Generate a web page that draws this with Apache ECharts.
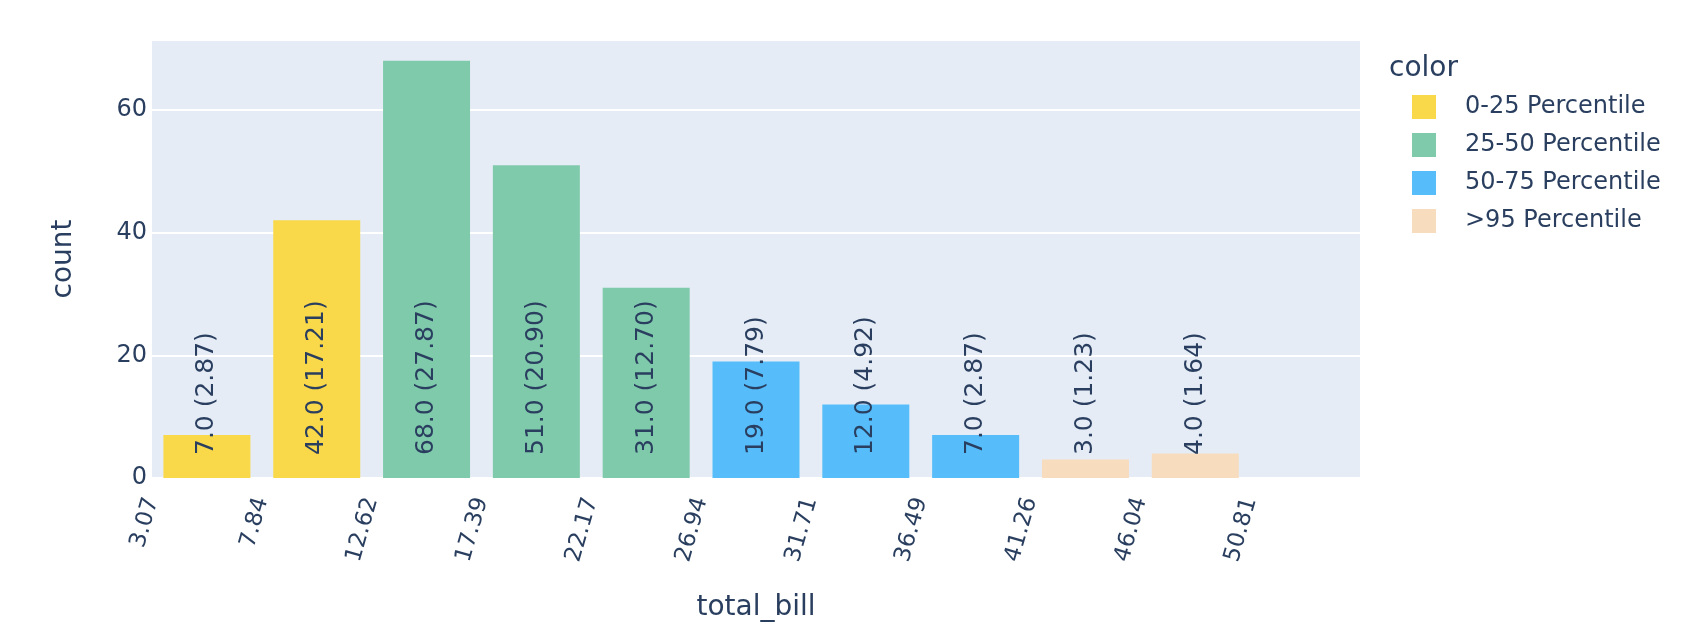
<!DOCTYPE html>
<html>
<head>
<meta charset="utf-8">
<script src="https://cdn.jsdelivr.net/npm/echarts@6/dist/echarts.min.js"></script>
<style>
html,body{margin:0;padding:0;background:#fff;}
#c{width:1696px;height:624px;}
</style>
</head>
<body>
<div id="c"></div>
<script>
// Bin edges shown as x tick labels
const binEdges = ['3.07','7.84','12.62','17.39','22.17','26.94','31.71','36.49','41.26','46.04','50.81'];
// Counts per bin
const counts = [7, 42, 68, 51, 31, 19, 12, 7, 3, 4];
// Percent of total per bin
const percents = [2.87, 17.21, 27.87, 20.90, 12.70, 7.79, 4.92, 2.87, 1.23, 1.64];
// Group of each bin
const binGroup = ['0-25 Percentile','0-25 Percentile','25-50 Percentile','25-50 Percentile','25-50 Percentile',
                  '50-75 Percentile','50-75 Percentile','50-75 Percentile','>95 Percentile','>95 Percentile'];
const groupNames = ['0-25 Percentile','25-50 Percentile','50-75 Percentile','>95 Percentile'];
const groupColors = ['#F9D84A','#80CAAC','#56BDFA','#F8DCBE'];
const yTicks = [0, 20, 40, 60];

const textColor = '#2a3f5f';
const FONT = '"DejaVu Sans", Verdana, sans-serif';

const series = groupNames.map((g, gi) => ({
  name: g,
  type: 'bar',
  barWidth: 87,
  barGap: '-100%',
  itemStyle: { color: groupColors[gi] },
  data: counts.map((c, i) => binGroup[i] === g ? { value: [i + 0.5, c], pct: percents[i] } : null).filter(d => d),
  label: {
    show: true,
    position: 'insideBottom',
    distance: 23,
    rotate: 90,
    align: 'left',
    verticalAlign: 'middle',
    color: textColor,
    fontFamily: FONT,
    fontSize: 25,
    formatter: p => p.value[1].toFixed(1) + ' (' + p.data.pct.toFixed(2) + ')'
  }
}));

const chart = echarts.init(document.getElementById('c'), null, { renderer: 'canvas' });
chart.setOption({
  animation: false,
  backgroundColor: '#fff',
  textStyle: { fontFamily: FONT, color: textColor },
  title: {
    text: 'color',
    left: 1384,
    top: 50,
    textStyle: { fontFamily: FONT, fontSize: 28, fontWeight: 'normal', color: textColor }
  },
  legend: {
    orient: 'vertical',
    left: 1412,
    top: 95,
    itemWidth: 24,
    itemHeight: 24,
    itemGap: 14,
    icon: 'rect',
    padding: 0,
    data: groupNames,
    textStyle: { fontFamily: FONT, fontSize: 24, color: textColor, padding: [0, 0, 0, 24] }
  },
  grid: {
    left: 152, right: 336, top: 40, bottom: 146,
    containLabel: false, outerBoundsMode: 'none',
    show: true, backgroundColor: '#E5ECF6', borderWidth: 0
  },
  xAxis: {
    type: 'value',
    min: 0,
    max: 11,
    interval: 1,
    name: 'total_bill',
    nameLocation: 'middle',
    nameGap: 116,
    nameTextStyle: { fontFamily: FONT, fontSize: 28, color: textColor },
    axisLine: { show: false },
    axisTick: { show: false },
    splitLine: { show: false },
    axisLabel: {
      rotate: 74,
      margin: 20,
      fontFamily: FONT,
      fontSize: 23,
      color: textColor,
      showMaxLabel: false,
      formatter: v => (binEdges[Math.round(v)] !== undefined ? binEdges[Math.round(v)] : '')
    }
  },
  yAxis: {
    type: 'value',
    min: 0,
    max: 71.4,
    interval: 20,
    name: 'count',
    nameLocation: 'middle',
    nameGap: 74,
    nameTextStyle: { fontFamily: FONT, fontSize: 28, color: textColor },
    axisLine: { show: false },
    axisTick: { show: false },
    splitLine: { show: true, lineStyle: { color: '#ffffff', width: 2 } },
    axisLabel: {
      fontFamily: FONT,
      fontSize: 24,
      color: textColor,
      margin: 5,
      showMaxLabel: false,
      formatter: v => (yTicks.indexOf(v) >= 0 ? String(v) : '')
    }
  },
  series: series
});
</script>
</body>
</html>
